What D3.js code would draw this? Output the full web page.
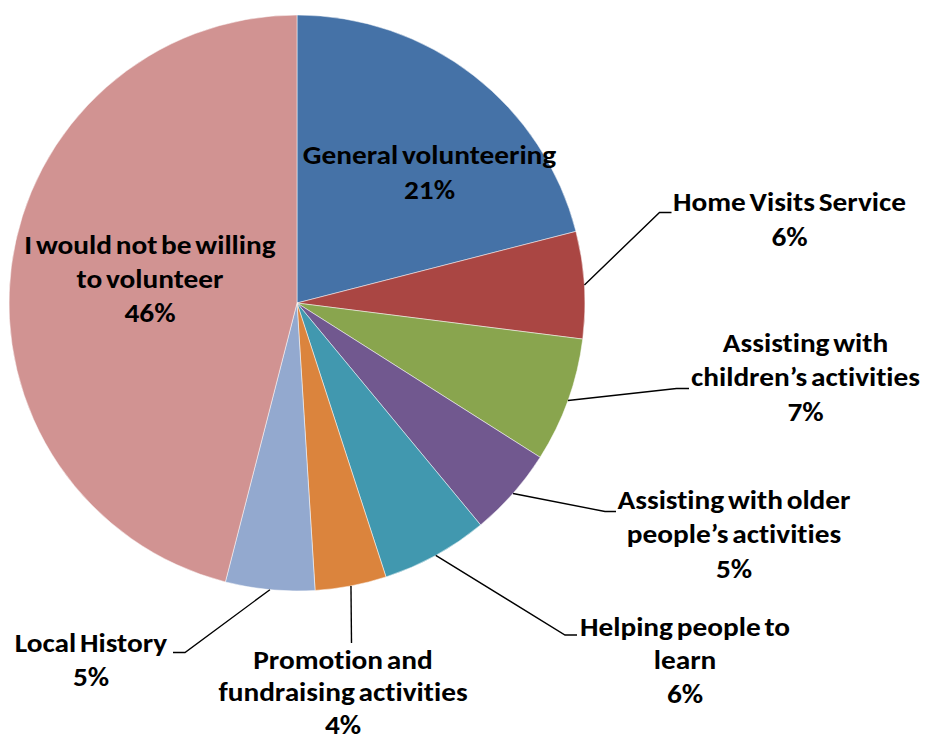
<!DOCTYPE html>
<html>
<head>
<meta charset="utf-8">
<script src="https://cdn.jsdelivr.net/npm/d3@7/dist/d3.min.js"></script>
<style>
  html, body { margin: 0; padding: 0; background: #fff; }
  svg { display: block; }
  text { font-family: Carlito, "Open Sans", Lato, sans-serif; font-weight: bold; fill: #000;
         font-variant-ligatures: none; font-feature-settings: "liga" 0, "clig" 0; }
</style>
</head>
<body>
<svg id="chart" width="925" height="740"></svg>
<script>
// Volunteering preferences (share of respondents, %)
const categories = [
  "General volunteering",
  "Home Visits Service",
  "Assisting with children’s activities",
  "Assisting with older people’s activities",
  "Helping people to learn",
  "Promotion and fundraising activities",
  "Local History",
  "I would not be willing to volunteer"
];
const shares = [21, 6, 7, 5, 6, 4, 5, 46];
const sliceColors = ["#4572A7", "#AA4643", "#89A54E", "#71588F", "#4198AF", "#DB843D", "#93A9CF", "#D19392"];

// Label wrapping and placement (label centre x, first baseline y, line step, optional leader elbow/end)
const labelLines = [
  ["General volunteering"],
  ["Home Visits Service"],
  ["Assisting with", "children’s activities"],
  ["Assisting with older", "people’s activities"],
  ["Helping people to", "learn"],
  ["Promotion and", "fundraising activities"],
  ["Local History"],
  ["I would not be willing", "to volunteer"]
];
const labelLayout = [
  { x: 429.5, y: 164, step: 35 },
  { x: 789.5, y: 211, step: 35.5, elbow: [659.5, 212.5], end: [671.5, 212.5] },
  { x: 805.5, y: 352, step: 34.5, elbow: [676.5, 388.5], end: [689, 388.5] },
  { x: 734, y: 509, step: 34.5, elbow: [605, 511.5], end: [616, 511.5] },
  { x: 685, y: 635.5, step: 34, elbow: [565, 635], end: [577, 635] },
  { x: 343, y: 669, step: 32.5, elbow: [351.5, 643], end: [351.5, 643] },
  { x: 91, y: 651.5, step: 35, elbow: [185, 652.5], end: [173, 652.5] },
  { x: 150, y: 253.5, step: 34.2 }
];

const cx = 297, cy = 303, radius = 288;
const fontSize = 25.5;
const stretchX = 1.15;

const svg = d3.select("#chart");
const g = svg.append("g").attr("transform", `translate(${cx},${cy})`);

const pie = d3.pie().sort(null).value(d => d);
const arcs = pie(shares);
const arc = d3.arc().innerRadius(0).outerRadius(radius);

g.selectAll("path.slice")
  .data(arcs)
  .join("path")
  .attr("class", "slice")
  .attr("d", arc)
  .attr("fill", (d, i) => sliceColors[i])
  .attr("stroke", "#ffffff")
  .attr("stroke-opacity", 0.7)
  .attr("stroke-width", 0.7);

// Leader lines from the middle of each outer arc to the label
const pct = d3.format(".0f");
arcs.forEach((d, i) => {
  const L = labelLayout[i];
  if (!L.elbow) return;
  const a = (d.startAngle + d.endAngle) / 2;
  const sx = cx + radius * Math.sin(a);
  const sy = cy - radius * Math.cos(a);
  const pts = [[sx, sy], L.elbow, L.end];
  svg.append("path")
    .attr("d", d3.line()(pts))
    .attr("fill", "none")
    .attr("stroke", "#000")
    .attr("stroke-width", 1.4);
});

// Labels: category name lines, then the share
arcs.forEach((d, i) => {
  const L = labelLayout[i];
  const lines = labelLines[i].concat([pct(d.value) + "%"]);
  const t = svg.append("text")
    .attr("transform", `translate(${L.x},${L.y}) scale(${stretchX},1)`)
    .attr("text-anchor", "middle")
    .attr("font-size", fontSize)
    .attr("word-spacing", -2.5);
  lines.forEach((s, k) => {
    t.append("tspan")
      .attr("x", 0)
      .attr("y", k * L.step)
      .text(s);
  });
});
</script>
</body>
</html>
